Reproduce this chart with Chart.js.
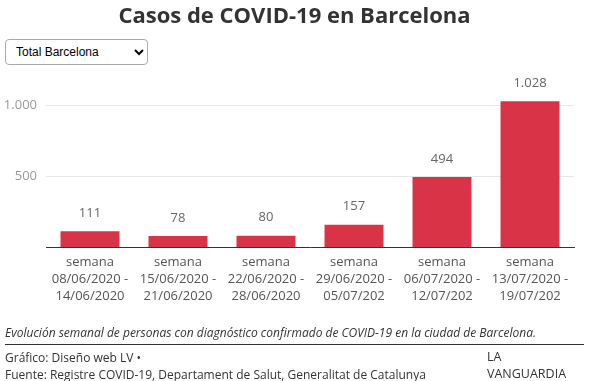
<!DOCTYPE html>
<html><head><meta charset="utf-8">
<script src="https://cdn.jsdelivr.net/npm/chart.js@4"></script>
<style>
html,body{margin:0;padding:0;background:#fff;width:589px;height:381px;overflow:hidden;font-family:"Open Sans",sans-serif;}
#wrap{position:relative;width:589px;height:381px;}
#c{position:absolute;left:0;top:0;}
.t{position:absolute;white-space:nowrap;}
#title{left:0;width:589px;text-align:center;top:-1px;font-size:22px;font-weight:bold;color:#333;}
#sel{position:absolute;left:5px;top:39px;width:143px;height:26px;font-family:"Liberation Sans",Arial,sans-serif;font-size:12px;color:#000;border:1px solid #aaa;border-radius:4px;background:#fff;padding:0 6px;}
#cap{left:5px;top:324px;font-size:12px;font-style:italic;color:#333;}
#line{position:absolute;left:5px;top:344px;width:579px;height:0;border-top:1px solid #333;}
#g1{left:5px;top:349px;font-size:12px;color:#333;}
#g2{left:5px;top:366px;font-size:12px;color:#333;}
#la{left:487px;top:348px;font-size:12.5px;color:#333;}
#lv{left:487px;top:365px;font-size:12.5px;color:#333;}
</style></head><body>
<div id="wrap">
<canvas id="c" width="589" height="381"></canvas>
<div class="t" id="title">Casos de COVID-19 en Barcelona</div>
<select id="sel"><option>Total Barcelona</option></select>
<div class="t" id="cap">Evolución semanal de personas con diagnóstico confirmado de COVID-19 en la ciudad de Barcelona.</div>
<div id="line"></div>
<div class="t" id="g1">Gráfico: Diseño web LV •</div>
<div class="t" id="g2">Fuente: Registre COVID-19, Departament de Salut, Generalitat de Catalunya</div>
<div class="t" id="la">LA</div>
<div class="t" id="lv">VANGUARDIA</div>
</div>
<script>
const categories = [
  ["semana","08/06/2020 -","14/06/2020"],
  ["semana","15/06/2020 -","21/06/2020"],
  ["semana","22/06/2020 -","28/06/2020"],
  ["semana","29/06/2020 -","05/07/202"],
  ["semana","06/07/2020 -","12/07/202"],
  ["semana","13/07/2020 -","19/07/202"]
];
const casos = [111, 78, 80, 157, 494, 1028];
const yTicks = [500, 1000];

function fmt(v){ return String(v).replace(/\B(?=(\d{3})+(?!\d))/g, "."); }

const labelPlugin = {
  id: 'valLabels',
  afterDatasetsDraw(chart){
    const ctx = chart.ctx;
    const meta = chart.getDatasetMeta(0);
    ctx.save();
    ctx.font = '13px "Open Sans"';
    ctx.fillStyle = '#666';
    ctx.textAlign = 'center';
    ctx.textBaseline = 'middle';
    meta.data.forEach((bar, i) => {
      ctx.fillText(fmt(casos[i]), bar.x, bar.y - 18);
    });
    ctx.restore();
  }
};

new Chart(document.getElementById('c'), {
  type: 'bar',
  data: { labels: categories, datasets: [{ data: casos, backgroundColor: '#d93347', barPercentage: 0.67, categoryPercentage: 1 }] },
  options: {
    responsive: false, animation: false,
    layout: { padding: { top: 77, right: 15, left: 0, bottom: 0 } },
    plugins: { legend: { display: false }, tooltip: { enabled: false } },
    scales: {
      x: {
        grid: { display: false, drawTicks: false },
        border: { display: true, color: '#333', width: 1 },
        ticks: { color: '#555', font: { family: 'Open Sans', size: 13, lineHeight: 1.3 }, padding: 7, maxRotation: 0, autoSkip: false },
        afterFit(s){ s.height = 134; }
      },
      y: {
        min: 0, max: 1200,
        grid: { color: '#e6e6e6', drawTicks: false },
        border: { display: false },
        ticks: { stepSize: 500, color: '#999', font: { family: 'Open Sans', size: 13 }, padding: 9, callback: v => fmt(v) },
        afterBuildTicks(s){ s.ticks = yTicks.map(v => ({ value: v })); },
        afterFit(s){ s.width = 46; }
      }
    }
  },
  plugins: [labelPlugin]
});
</script>
</body></html>
